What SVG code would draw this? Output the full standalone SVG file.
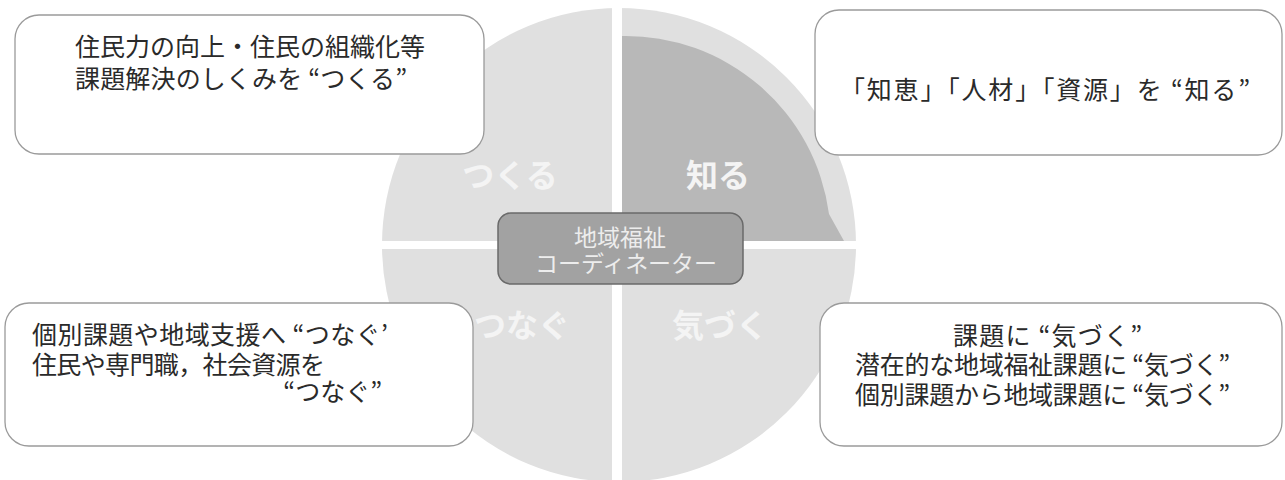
<svg xmlns="http://www.w3.org/2000/svg" width="1285" height="480" viewBox="0 0 1285 480">
<style>
.box{fill:#ffffff;stroke:#9a9a9a;stroke-width:1.3}
.t{font-family:"Noto Sans CJK JP","Noto Sans",sans-serif;font-size:25px;fill:#2a2a2a}
.q{font-family:"Noto Sans CJK JP","Noto Sans",sans-serif;font-size:32px;font-weight:bold;fill:#f4f4f4}
.c{font-family:"Noto Sans CJK JP","Noto Sans",sans-serif;font-size:23px;fill:#ededed}
</style>
<rect width="1285" height="480" fill="#ffffff"/>
<g id="wheel">
<circle cx="619" cy="245" r="237" fill="#e0e0e0"/>
<path d="M622,36 A205,205 0 0 1 829,214 L844,241 L622,241 Z" fill="#b8b8b8"/>
<rect x="612" y="0" width="10" height="480" fill="#ffffff"/>
<rect x="375" y="241" width="500" height="8" fill="#ffffff"/>
<text class="q" x="510" y="187" text-anchor="middle">つくる</text>
<text class="q" x="718" y="187" text-anchor="middle">知る</text>
<text class="q" x="522" y="337" text-anchor="middle">つなぐ</text>
<text class="q" x="720" y="337" text-anchor="middle">気づく</text>
</g>
<g id="center">
<rect x="498" y="213" width="245" height="71" rx="13" fill="#a2a2a2" stroke="#6a6a6a" stroke-width="1.5"/>
<text class="c" text-anchor="middle"><tspan x="620" y="246">地域福祉</tspan><tspan x="626" y="272" textLength="182">コーディネーター</tspan></text>
</g>
<g id="tukuru-box">
<rect class="box" x="15" y="15" width="469" height="139" rx="24"/>
<text class="t"><tspan x="75" y="56" textLength="350">住民力の向上・住民の組織化等</tspan><tspan x="75" y="88" textLength="332">課題解決のしくみを “つくる”</tspan></text>
</g>
<g id="shiru-box">
<rect class="box" x="815" y="10" width="467" height="145" rx="24"/>
<text class="t" x="840" y="99" textLength="410">「知恵」「人材」「資源」を “知る”</text>
</g>
<g id="tsunagu-box">
<rect class="box" x="5" y="303" width="468" height="143" rx="24"/>
<text class="t"><tspan x="32" y="344" textLength="356">個別課題や地域支援へ “つなぐ’</tspan><tspan x="32" y="374" textLength="293">住民や専門職，社会資源を</tspan><tspan x="382" y="401" text-anchor="end">“つなぐ”</tspan></text>
</g>
<g id="kizuku-box">
<rect class="box" x="820" y="303" width="462" height="143" rx="24"/>
<text class="t"><tspan x="953" y="345" textLength="189">課題に “気づく”</tspan><tspan x="855" y="374" textLength="375">潜在的な地域福祉課題に “気づく”</tspan><tspan x="855" y="404" textLength="375">個別課題から地域課題に “気づく”</tspan></text>
</g>
<g id="connectors"></g>
</svg>
